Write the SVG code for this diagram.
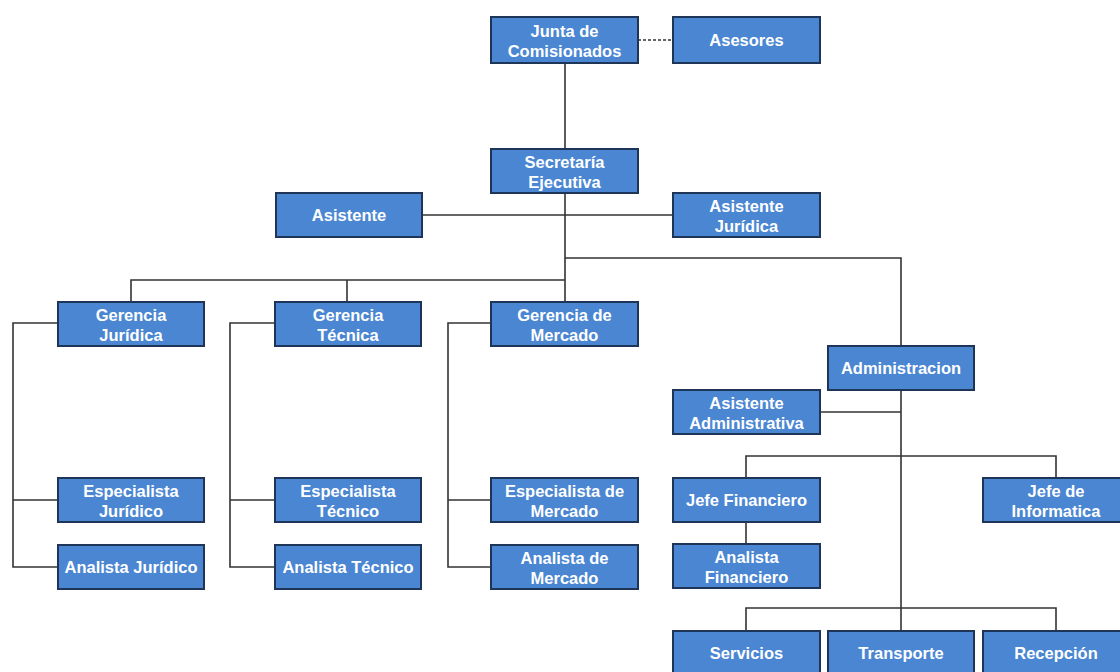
<svg xmlns="http://www.w3.org/2000/svg" width="1120" height="672" viewBox="0 0 1120 672">
<style>
.box{fill:#4a86d2;stroke:#1e3558;stroke-width:2}
.t{font-family:"Liberation Sans",Arial,sans-serif;font-size:16.5px;font-weight:bold;fill:#ffffff;text-anchor:middle}
.ln{fill:none;stroke:#333333;stroke-width:1.6}
.dash{fill:none;stroke:#333333;stroke-width:1.6;stroke-dasharray:3 2}
</style>
<rect width="1120" height="672" fill="#ffffff"/>
<g id="connectors">
<path class="dash" d="M638 40H673"/>
<path class="ln" d="M565 63V149"/>
<path class="ln" d="M422 215H673"/>
<path class="ln" d="M565 193V302"/>
<path class="ln" d="M131 302V280H565"/>
<path class="ln" d="M347 280V302"/>
<path class="ln" d="M565 258H901V346"/>
<path class="ln" d="M58 323H13V567H58M13 500H58"/>
<path class="ln" d="M275 323H230V567H275M230 500H275"/>
<path class="ln" d="M491 323H448V567H491M448 500H491"/>
<path class="ln" d="M901 390V608"/>
<path class="ln" d="M820 412H901"/>
<path class="ln" d="M746 478V456H1056V478"/>
<path class="ln" d="M746 522V544"/>
<path class="ln" d="M746 631V608H1056V631"/>
<path class="ln" d="M901 608V631"/>
</g>
<g id="junta"><rect class="box" x="491" y="17" width="147" height="46"/><text class="t" x="564.5" y="37">Junta de</text><text class="t" x="564.5" y="57">Comisionados</text></g>
<g id="asesores"><rect class="box" x="673" y="17" width="147" height="46"/><text class="t" x="746.5" y="46">Asesores</text></g>
<g id="secretaria"><rect class="box" x="491" y="149" width="147" height="44"/><text class="t" x="564.5" y="168">Secretaría</text><text class="t" x="564.5" y="188">Ejecutiva</text></g>
<g id="asistente"><rect class="box" x="276" y="193" width="146" height="44"/><text class="t" x="349" y="221">Asistente</text></g>
<g id="asistente-juridica"><rect class="box" x="673" y="193" width="147" height="44"/><text class="t" x="746.5" y="212">Asistente</text><text class="t" x="746.5" y="232">Jurídica</text></g>
<g id="gerencia-juridica"><rect class="box" x="58" y="302" width="146" height="44"/><text class="t" x="131" y="321">Gerencia</text><text class="t" x="131" y="341">Jurídica</text></g>
<g id="gerencia-tecnica"><rect class="box" x="275" y="302" width="146" height="44"/><text class="t" x="348" y="321">Gerencia</text><text class="t" x="348" y="341">Técnica</text></g>
<g id="gerencia-mercado"><rect class="box" x="491" y="302" width="147" height="44"/><text class="t" x="564.5" y="321">Gerencia de</text><text class="t" x="564.5" y="341">Mercado</text></g>
<g id="administracion"><rect class="box" x="828" y="346" width="146" height="44"/><text class="t" x="901" y="374">Administracion</text></g>
<g id="asistente-administrativa"><rect class="box" x="673" y="390" width="147" height="44"/><text class="t" x="746.5" y="409">Asistente</text><text class="t" x="746.5" y="429">Administrativa</text></g>
<g id="especialista-juridico"><rect class="box" x="58" y="478" width="146" height="44"/><text class="t" x="131" y="497">Especialista</text><text class="t" x="131" y="517">Jurídico</text></g>
<g id="analista-juridico"><rect class="box" x="58" y="545" width="146" height="44"/><text class="t" x="131" y="573">Analista Jurídico</text></g>
<g id="especialista-tecnico"><rect class="box" x="275" y="478" width="146" height="44"/><text class="t" x="348" y="497">Especialista</text><text class="t" x="348" y="517">Técnico</text></g>
<g id="analista-tecnico"><rect class="box" x="275" y="545" width="146" height="44"/><text class="t" x="348" y="573">Analista Técnico</text></g>
<g id="especialista-mercado"><rect class="box" x="491" y="478" width="147" height="44"/><text class="t" x="564.5" y="497">Especialista de</text><text class="t" x="564.5" y="517">Mercado</text></g>
<g id="analista-mercado"><rect class="box" x="491" y="545" width="147" height="44"/><text class="t" x="564.5" y="564">Analista de</text><text class="t" x="564.5" y="584">Mercado</text></g>
<g id="jefe-financiero"><rect class="box" x="673" y="478" width="147" height="44"/><text class="t" x="746.5" y="506">Jefe Financiero</text></g>
<g id="analista-financiero"><rect class="box" x="673" y="544" width="147" height="44"/><text class="t" x="746.5" y="563">Analista</text><text class="t" x="746.5" y="583">Financiero</text></g>
<g id="jefe-informatica"><rect class="box" x="983" y="478" width="146" height="44"/><text class="t" x="1056" y="497">Jefe de</text><text class="t" x="1056" y="517">Informatica</text></g>
<g id="servicios"><rect class="box" x="673" y="631" width="147" height="44"/><text class="t" x="746.5" y="659">Servicios</text></g>
<g id="transporte"><rect class="box" x="828" y="631" width="146" height="44"/><text class="t" x="901" y="659">Transporte</text></g>
<g id="recepcion"><rect class="box" x="983" y="631" width="146" height="44"/><text class="t" x="1056" y="659">Recepción</text></g>
</svg>
